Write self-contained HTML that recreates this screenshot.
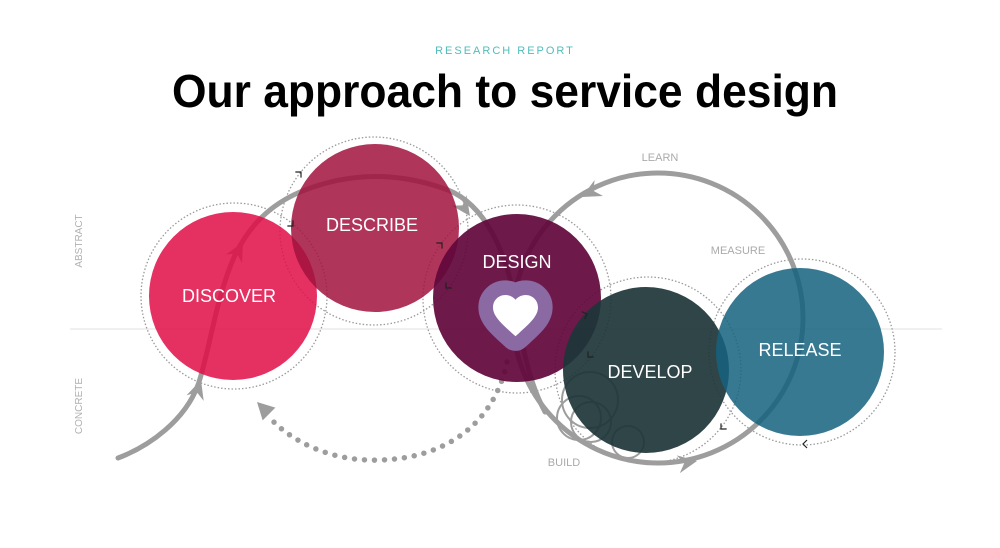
<!DOCTYPE html>
<html><head><meta charset="utf-8"><style>
html,body{margin:0;padding:0;background:#fff;}
svg{display:block;}
</style></head><body>
<svg width="1000" height="548" viewBox="0 0 1000 548" xmlns="http://www.w3.org/2000/svg">
<rect width="1000" height="548" fill="#fff"/>
<text x="505" y="54" text-anchor="middle" font-family="Liberation Sans, sans-serif" font-size="11" letter-spacing="2" fill="#4fbdbb">RESEARCH REPORT</text>
<text x="505" y="107" text-anchor="middle" font-family="Liberation Sans, sans-serif" font-size="46" font-weight="bold" fill="#000" textLength="666" lengthAdjust="spacingAndGlyphs">Our approach to service design</text>

<line x1="70" y1="329" x2="942" y2="329" stroke="#e0e0e0" stroke-width="1"/>
<text transform="translate(82,241) rotate(-90)" text-anchor="middle" font-family="Liberation Sans, sans-serif" font-size="10" fill="#b0b0b0">ABSTRACT</text>
<text transform="translate(82,406) rotate(-90)" text-anchor="middle" font-family="Liberation Sans, sans-serif" font-size="10" fill="#b0b0b0">CONCRETE</text>

<g font-family="Liberation Sans, sans-serif" font-size="11" fill="#aaaaaa" text-anchor="middle">
<text x="660" y="161">LEARN</text>
<text x="738" y="254">MEASURE</text>
<text x="564" y="466">BUILD</text>
</g>

<!-- dotted rings -->
<g fill="none" stroke="#9a9a9a" stroke-width="1.3" stroke-dasharray="1.5 2">
<circle cx="234" cy="296" r="93"/>
<circle cx="374" cy="231" r="94"/>
<circle cx="517" cy="299" r="94"/>
<circle cx="648" cy="370" r="93"/>
<circle cx="802" cy="352" r="93"/>
</g>

<!-- gray lines -->
<g fill="none" stroke="#9d9d9d" stroke-width="5" stroke-linecap="round">
<path d="M118,458 C150,446 185,420 198,385 C210,350 215,300 235,255 C250,225 270,205 300,192 Q372,162 448,190 C485,205 505,250 515,300 C522,345 528,380 545,412"/>
<circle cx="658" cy="318" r="145"/>
</g>
<g fill="none" stroke="#9d9d9d" stroke-width="2">
<circle cx="590" cy="400" r="28"/>
<circle cx="591" cy="422" r="20"/>
<circle cx="628" cy="442" r="16"/>
<circle cx="579" cy="418" r="22"/>
</g>
<!-- dotted arrow -->
<path d="M507,362 C495,420 450,458 380,460 C330,462 290,440 270,418" fill="none" stroke="#9d9d9d" stroke-width="5.5" stroke-dasharray="0 10" stroke-linecap="round"/>

<!-- arrowheads -->
<g fill="#9d9d9d">
<path d="M0,0 L-19,-9 L-13,0 L-19,9 Z" transform="translate(201,380) rotate(-72)"/>
<path d="M0,0 L-19,-9 L-13,0 L-19,9 Z" transform="translate(243,242) rotate(-62)"/>
<path d="M0,0 L-19,-9 L-13,0 L-19,9 Z" transform="translate(470,216) rotate(55)"/>
<path d="M0,0 L-19,-9 L-13,0 L-19,9 Z" transform="translate(582,197) rotate(152)"/>
<path d="M0,0 L-19,-9 L-13,0 L-19,9 Z" transform="translate(697,461) rotate(-10)"/>
<path d="M0,0 L-17,-9 L-17,9 Z" transform="translate(257,402) rotate(-135)"/>
</g>

<!-- circles -->
<circle cx="233" cy="296" r="84" fill="#e00c46" fill-opacity="0.85"/>
<circle cx="375" cy="228" r="84" fill="#a2123d" fill-opacity="0.85"/>
<circle cx="517" cy="298" r="84" fill="#61063b" fill-opacity="0.92"/>
<circle cx="646" cy="370" r="83" fill="#1d3538" fill-opacity="0.92"/>
<circle cx="800" cy="352" r="84" fill="#15617f" fill-opacity="0.85"/>

<!-- heart -->
<g transform="translate(488.5,288.25) scale(2.25)">
<path d="M12 21.35l-1.45-1.32C5.4 15.36 2 12.280 2 8.5 2 5.42 4.42 3 7.5 3c1.74 0 3.41.81 4.5 2.09C13.09 3.81 14.76 3 16.5 3 19.58 3 22 5.42 22 8.5c0 3.78-3.4 6.86-8.55 11.54L12 21.35z" fill="#8b6aa3" stroke="#8b6aa3" stroke-width="13" stroke-linejoin="round"/>
<path d="M12 21.35l-1.45-1.32C5.4 15.36 2 12.280 2 8.5 2 5.42 4.42 3 7.5 3c1.74 0 3.41.81 4.5 2.09C13.09 3.81 14.76 3 16.5 3 19.58 3 22 5.42 22 8.5c0 3.78-3.4 6.86-8.55 11.54L12 21.35z" fill="#fff"/>
</g>

<!-- small chevrons -->
<g fill="none" stroke="#222" stroke-width="1.2">
<path d="M-4,-4 L0,0 L-4,4" transform="translate(301,172) rotate(-45)"/>
<path d="M-4,-4 L0,0 L-4,4" transform="translate(293,226) rotate(45)"/>
<path d="M-4,-4 L0,0 L-4,4" transform="translate(442,243) rotate(-45)"/>
<path d="M-4,-4 L0,0 L-4,4" transform="translate(446,288) rotate(135)"/>
<path d="M-4,-4 L0,0 L-4,4" transform="translate(587,314) rotate(-20)"/>
<path d="M-4,-4 L0,0 L-4,4" transform="translate(588,357) rotate(135)"/>
<path d="M-4,-4 L0,0 L-4,4" transform="translate(721,429) rotate(135)"/>
<path d="M-4,-4 L0,0 L-4,4" transform="translate(803,444) rotate(180)"/>
</g>

<!-- labels -->
<g font-family="Liberation Sans, sans-serif" font-size="18" fill="#fff" text-anchor="middle">
<text x="229" y="302">DISCOVER</text>
<text x="372" y="231">DESCRIBE</text>
<text x="517" y="268">DESIGN</text>
<text x="650" y="378">DEVELOP</text>
<text x="800" y="356">RELEASE</text>
</g>
</svg>
</body></html>
